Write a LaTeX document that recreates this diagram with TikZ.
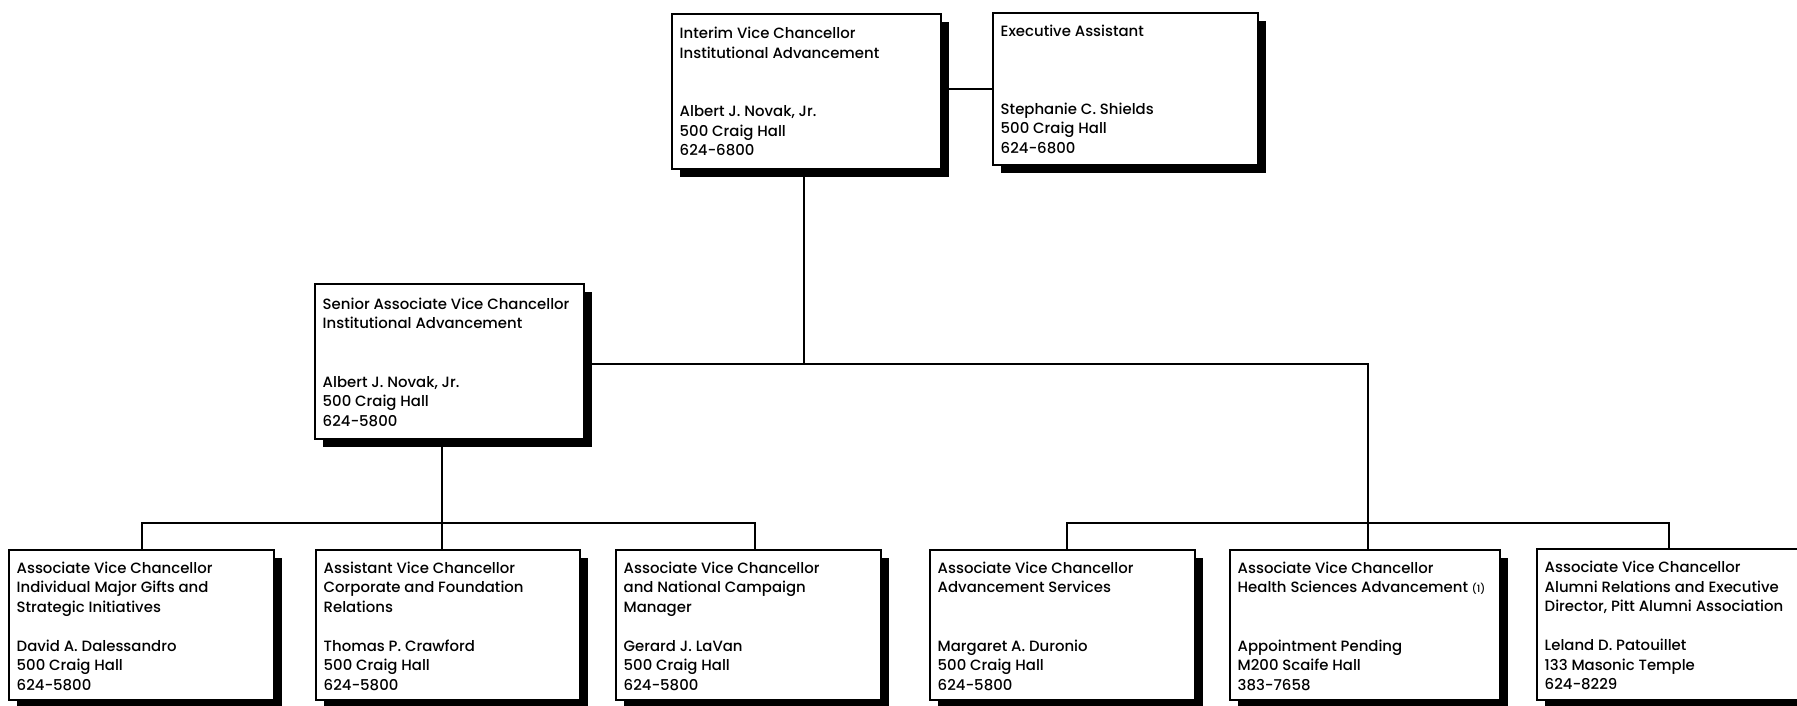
\documentclass[tikz,border=0pt]{standalone}
\usepackage{fontspec}
\setmainfont{Poppins}[UprightFont={* Medium}]
\usetikzlibrary{shadows}
\tikzset{
  orgbox/.style={draw, line width=1.6pt, fill=white, inner sep=0pt, anchor=north west,
    drop shadow={shadow xshift=8pt, shadow yshift=-8pt, fill=black, opacity=1}},
  orgtxt/.style={inner sep=0pt, anchor=base west, font=\fontsize{14.9}{19.5}\selectfont},
  conn/.style={line width=1.6pt, line join=miter}
}
\newcommand{\obox}[7]{%
  \node[orgbox, minimum width=#4pt, minimum height=#5pt] (#1) at (#2,-#3) {};
  \node[orgtxt] (#1t) at ([xshift=8.5pt, yshift=-#6pt]#1.north west) {\parbox[t]{320pt}{\raggedright #7}};
}
\begin{document}
\begin{tikzpicture}[x=1pt, y=1pt]
\useasboundingbox (0,0) rectangle (1797,-705);
\fill[white] (0,0) rectangle (1797,-705);
% connector coordinates
\coordinate (J) at (804,-364);
\coordinate (L1) at (142,-523);
\coordinate (L2) at (442,-523);
\coordinate (L3) at (755,-523);
\coordinate (R1) at (1067,-523);
\coordinate (R2) at (1368,-523);
\coordinate (R3) at (1669,-523);
% boxes
\obox{vc}{671}{13}{269}{155}{25.5}{Interim Vice Chancellor\\Institutional Advancement\\\mbox{}\\\mbox{}\\Albert J. Novak, Jr.\\500 Craig Hall\\624-6800}
\obox{ea}{992}{12}{265}{152}{24}{Executive Assistant\\\mbox{}\\\mbox{}\\\mbox{}\\Stephanie C. Shields\\500 Craig Hall\\624-6800}
\obox{savc}{314}{283}{269}{155}{26}{Senior Associate Vice Chancellor\\Institutional Advancement\\\mbox{}\\\mbox{}\\Albert J. Novak, Jr.\\500 Craig Hall\\624-5800}
\obox{b1}{8}{549}{265}{150}{24}{Associate Vice Chancellor\\Individual Major Gifts and\\Strategic Initiatives\\\mbox{}\\David A. Dalessandro\\500 Craig Hall\\624-5800}
\obox{b2}{315}{549}{264}{150}{24}{Assistant Vice Chancellor\\Corporate and Foundation\\Relations\\\mbox{}\\Thomas P. Crawford\\500 Craig Hall\\624-5800}
\obox{b3}{615}{549}{265}{150}{24}{Associate Vice Chancellor\\and National Campaign\\Manager\\\mbox{}\\Gerard J. LaVan\\500 Craig Hall\\624-5800}
\obox{b4}{929}{549}{265}{150}{24}{Associate Vice Chancellor\\Advancement Services\\\mbox{}\\\mbox{}\\Margaret A. Duronio\\500 Craig Hall\\624-5800}
\obox{b5}{1229}{549}{270}{150}{24}{Associate Vice Chancellor\\Health Sciences Advancement {\fontsize{10}{10}\selectfont(1)}\\\mbox{}\\\mbox{}\\Appointment Pending\\M200 Scaife Hall\\383-7658}
\obox{b6}{1536}{548}{300}{151}{24.5}{Associate Vice Chancellor\\Alumni Relations and Executive\\Director, Pitt Alumni Association\\\mbox{}\\Leland D. Patouillet\\133 Masonic Temple\\624-8229}
% connectors
\draw[conn] (ea.west) -- (ea.west -| vc.east);
\draw[conn] (vc.south -| J) -- (J);
\draw[conn] (savc.east |- J) -- (J -| R2) -- (R2);
\draw[conn] (savc.south -| L2) -- (L2);
\draw[conn] (L1 |- b1.north) -- (L1) -- (L3) -- (L3 |- b3.north);
\draw[conn] (L2) -- (L2 |- b2.north);
\draw[conn] (R1 |- b4.north) -- (R1) -- (R3) -- (R3 |- b6.north);
\draw[conn] (R2) -- (R2 |- b5.north);
\end{tikzpicture}
\end{document}
